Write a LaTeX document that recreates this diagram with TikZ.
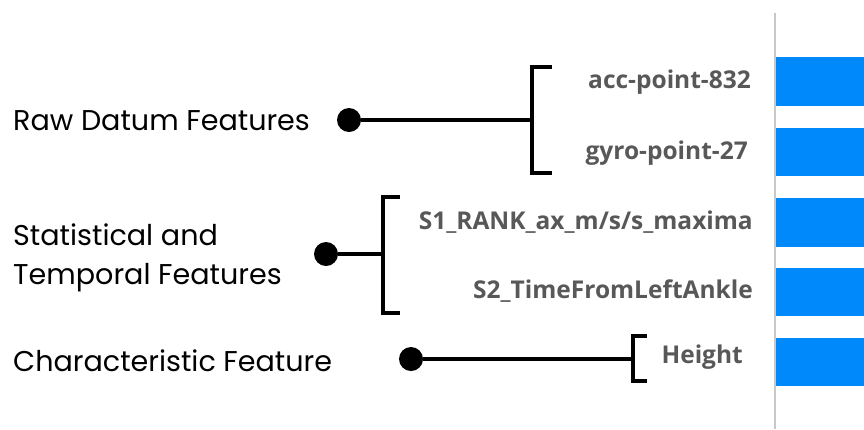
\documentclass[tikz,border=0pt]{standalone}
\usepackage{fontspec}
\usepackage{xcolor}
\newfontfamily\popfont{Poppins}
\newfontfamily\opensans{Open Sans}
\definecolor{barblue}{RGB}{0,137,250}
\definecolor{labgray}{RGB}{88,88,88}
\definecolor{axisgray}{RGB}{200,200,200}

\begin{document}
\begin{tikzpicture}[x=1pt,y=-1pt,
  group/.style={font=\popfont\fontsize{28.6}{39}\selectfont,anchor=west,align=left,inner sep=0},
  feat/.style={font=\opensans\bfseries\fontsize{24.5}{28}\selectfont,text=labgray,anchor=east,inner sep=0},
  dot/.style={circle,fill=black,minimum size=24pt,inner sep=0},
  brk/.style={line width=4pt}]
\useasboundingbox (0,0) rectangle (864,429);
% axis and bars
\draw[axisgray,line width=2pt] (775,13) -- (775,429);
\foreach \yt/\yb in {57/106,128/176,198/247,268/316,338/386}
  \fill[barblue] (776,\yt) rectangle (864,\yb);
% feature labels
\node[feat] (acc) at (751,82) {acc-point-832};
\node[feat] (gyro) at (748,153) {gyro-point-27};
\node[feat] (rank) at (753,222) {S1\_RANK\_ax\_m/s/s\_maxima};
\node[feat] (ankle) at (753,291) {S2\_TimeFromLeftAnkle};
\node[feat] (height) at (743,357) {Height};
% group labels
\node[group] (raw) at (13,121) {Raw Datum Features};
\node[group] (stat) at (13,258) {Statistical and\\Temporal Features};
\node[group] (char) at (13,361) {Characteristic Feature};
% dots
\node[dot] (rawdot) at (349,120) {};
\node[dot] (statdot) at (326,254) {};
\node[dot] (chardot) at (411,359) {};
% brackets
\coordinate (rawbrk) at (532,120);
\coordinate (statbrk) at (383,254);
\coordinate (charbrk) at (633,359);
\draw[brk] (552,67) -| (532,173) -- (552,173);
\draw[brk] (400,197) -| (383,313) -- (400,313);
\draw[brk] (647,336) -| (633,381) -- (647,381);
\draw[brk] (rawdot) -- (rawbrk);
\draw[brk] (statdot) -- (statbrk);
\draw[brk] (chardot) -- (charbrk);
\end{tikzpicture}
\end{document}
